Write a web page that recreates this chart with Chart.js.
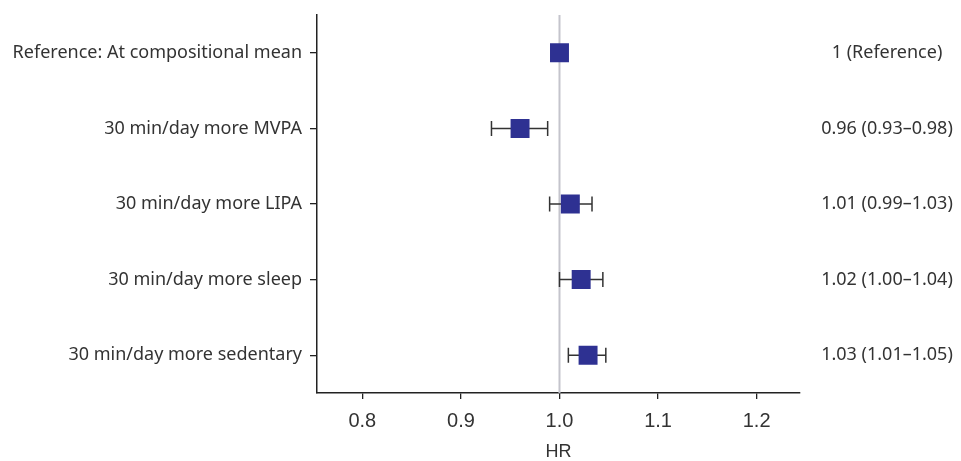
<!DOCTYPE html>
<html lang="en">

<head>
    <meta charset="UTF-8">
    <title>HR forest plot</title>
    <script src="https://cdn.jsdelivr.net/npm/chart.js"></script>
    <style>
        body { margin: 0; background: #fff; }
        #container { width: 961px; height: 461px; }
    </style>
</head>

<body>
    <div id="container">
        <canvas id="mycanvas"></canvas>
    </div>
    <script>
        // 資料
        const categories = [
            'Reference: At compositional mean',
            '30 min/day more MVPA',
            '30 min/day more LIPA',
            '30 min/day more sleep',
            '30 min/day more sedentary'
        ]
        const hr = [1.0, 0.96, 1.011, 1.022, 1.029]
        const ciLower = [null, 0.931, 0.99, 1.0, 1.009]
        const ciUpper = [null, 0.988, 1.033, 1.044, 1.047]
        const rightLabels = [
            '1 (Reference)',
            '0.96 (0.93\u20130.98)',
            '1.01 (0.99\u20131.03)',
            '1.02 (1.00\u20131.04)',
            '1.03 (1.01\u20131.05)'
        ]
        const xTicks = [0.8, 0.9, 1.0, 1.1, 1.2]
        const refValue = 1.0

        const labelFont = '"Noto Sans", sans-serif'

        // 參考線 + 誤差線 + 右側文字
        const forestPlugin = {
            id: 'forest',
            beforeDatasetsDraw(chart) {
                const ctx = chart.ctx
                const x = chart.scales.x
                const y = chart.scales.y
                const area = chart.chartArea
                ctx.save()
                // reference line
                ctx.strokeStyle = '#c4c4cc'
                ctx.lineWidth = 2
                const rx = x.getPixelForValue(refValue)
                ctx.beginPath()
                ctx.moveTo(rx, area.top)
                ctx.lineTo(rx, area.bottom)
                ctx.stroke()
                // error bars
                ctx.strokeStyle = '#333'
                ctx.lineWidth = 1.5
                categories.forEach((c, i) => {
                    if (ciLower[i] == null) return
                    const py = y.getPixelForValue(i)
                    const x1 = x.getPixelForValue(ciLower[i])
                    const x2 = x.getPixelForValue(ciUpper[i])
                    ctx.beginPath()
                    ctx.moveTo(x1, py); ctx.lineTo(x2, py)
                    ctx.moveTo(x1, py - 7.5); ctx.lineTo(x1, py + 7.5)
                    ctx.moveTo(x2, py - 7.5); ctx.lineTo(x2, py + 7.5)
                    ctx.stroke()
                })
                ctx.restore()
            },
            afterDraw(chart) {
                const ctx = chart.ctx
                const y = chart.scales.y
                const area = chart.chartArea
                ctx.save()
                ctx.font = '18px ' + labelFont
                ctx.fillStyle = '#333'
                ctx.textAlign = 'center'
                ctx.textBaseline = 'middle'
                rightLabels.forEach((t, i) => {
                    ctx.fillText(t, area.right + 87, y.getPixelForValue(i))
                })
                ctx.restore()
            }
        }

        new Chart(document.getElementById('mycanvas'), {
            type: 'line',
            data: {
                labels: categories,
                datasets: [{
                    data: hr,
                    showLine: false,
                    pointStyle: 'rect',
                    pointRadius: 13.4,
                    pointHoverRadius: 13.4,
                    pointBorderWidth: 0,
                    pointBackgroundColor: '#2e3192',
                    borderColor: '#2e3192'
                }]
            },
            options: {
                indexAxis: 'y',
                responsive: true,
                maintainAspectRatio: false,
                animation: false,
                events: [],
                layout: { padding: { top: 15, right: 161, left: 0, bottom: 0 } },
                plugins: {
                    legend: { display: false },
                    tooltip: { enabled: false }
                },
                scales: {
                    x: {
                        type: 'linear',
                        min: 0.754,
                        max: 1.244,
                        afterBuildTicks: (s) => { s.ticks = xTicks.map(v => ({ value: v })) },
                        afterFit: (s) => { s.height = 68; s.paddingLeft = 0; s.paddingRight = 0 },
                        ticks: {
                            font: { family: '"Liberation Sans", Arial, sans-serif', size: 20 },
                            color: '#333',
                            padding: 10,
                            callback: (v) => v.toFixed(1)
                        },
                        grid: { drawOnChartArea: false, drawTicks: true, tickLength: 6, color: '#222', lineWidth: 1.3 },
                        border: { display: true, color: '#222', width: 1.5 },
                        title: {
                            display: true,
                            text: 'HR',
                            font: { family: '"Liberation Sans", Arial, sans-serif', size: 18 },
                            color: '#333',
                            padding: { top: 6, bottom: -2 }
                        }
                    },
                    y: {
                        type: 'category',
                        offset: true,
                        afterFit: (s) => { s.width = 317; s.paddingTop = 0; s.paddingBottom = 0 },
                        ticks: {
                            font: { family: labelFont, size: 18 },
                            color: '#333',
                            padding: 8
                        },
                        grid: { drawOnChartArea: false, drawTicks: true, tickLength: 7, color: '#222', lineWidth: 1.3 },
                        border: { display: true, color: '#222', width: 1.5 }
                    }
                }
            },
            plugins: [forestPlugin]
        })
    </script>
</body>

</html>
